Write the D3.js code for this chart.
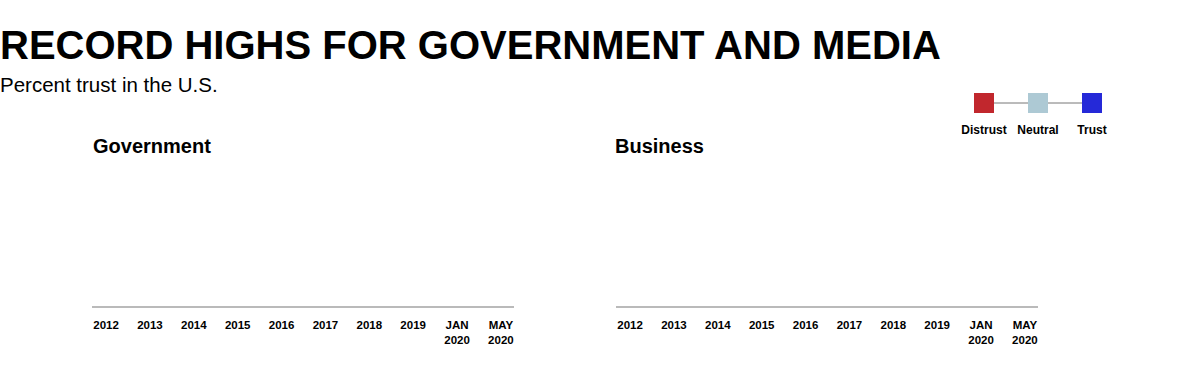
<!DOCTYPE html>
<html>
<head>
<meta charset="utf-8">
<script src="https://cdn.jsdelivr.net/npm/d3@7"></script>
<style>
  body { margin: 0; background: #fff; }
  svg { font-family: "Liberation Sans", Arial, Helvetica, sans-serif; }
</style>
</head>
<body>
<svg id="svg" width="1200" height="384"></svg>
<script>
// chart data
const title = 'RECORD HIGHS FOR GOVERNMENT AND MEDIA';
const subtitle = 'Percent trust in the U.S.';
const panels = ['Government', 'Business'];
const periods = ['2012', '2013', '2014', '2015', '2016', '2017', '2018', '2019', 'JAN 2020', 'MAY 2020'];
const legendKeys = ['Distrust', 'Neutral', 'Trust'];
const legendColors = ['#c1272d', '#adc9d4', '#2529d8'];

const svg = d3.select('#svg');

svg.append('text')
    .attr('x', 0)
    .attr('y', 59)
    .style('font-size', '40px')
    .style('font-weight', 'bold')
    .text(title);

svg.append('text')
    .attr('x', 0)
    .attr('y', 92)
    .style('font-size', '20.5px')
    .text(subtitle);

// legend
const legendX = d3.scalePoint().domain(legendKeys).range([984, 1092]);
const legend = svg.append('g');
legend.append('line')
    .attr('x1', legendX(legendKeys[0]))
    .attr('x2', legendX(legendKeys[legendKeys.length - 1]))
    .attr('y1', 103)
    .attr('y2', 103)
    .style('stroke', '#777')
    .style('stroke-width', 1);
legendKeys.forEach(function (k, i) {
    legend.append('rect')
        .attr('x', legendX(k) - 10)
        .attr('y', 93)
        .attr('width', 20)
        .attr('height', 20)
        .style('fill', legendColors[i]);
    legend.append('text')
        .attr('x', legendX(k))
        .attr('y', 134)
        .attr('text-anchor', 'middle')
        .style('font-size', '12px')
        .style('font-weight', 'bold')
        .text(k);
});

// panels
const panelLeft = [92, 616];
const titleLeft = [93, 615];
const panelWidth = 422;
const axisY = 307;

panels.forEach(function (name, i) {
    svg.append('text')
        .attr('x', titleLeft[i])
        .attr('y', 153)
        .style('font-size', '20px')
        .style('font-weight', 'bold')
        .text(name);

    const g = svg.append('g').attr('transform', 'translate(' + panelLeft[i] + ',0)');

    const x = d3.scalePoint()
        .domain(periods)
        .range([0, panelWidth])
        .padding(0.31);

    const axis = g.append('g')
        .attr('transform', 'translate(0,' + axisY + ')')
        .call(d3.axisBottom(x).tickSize(0).tickSizeOuter(0).tickFormat(''));

    axis.select('.domain')
        .attr('d', 'M0,0H' + panelWidth)
        .style('stroke', '#777')
        .style('stroke-width', 1.2);

    axis.selectAll('.tick').each(function (d) {
        const t = d3.select(this).append('text')
            .attr('y', 22)
            .attr('fill', '#000')
            .attr('text-anchor', 'middle')
            .style('font-size', '11.5px')
            .style('font-weight', 'bold');
        d.split(' ').forEach(function (p, j) {
            t.append('tspan')
                .attr('x', 0)
                .attr('dy', j === 0 ? 0 : 15)
                .text(p);
        });
    });
});
</script>
</body>
</html>
